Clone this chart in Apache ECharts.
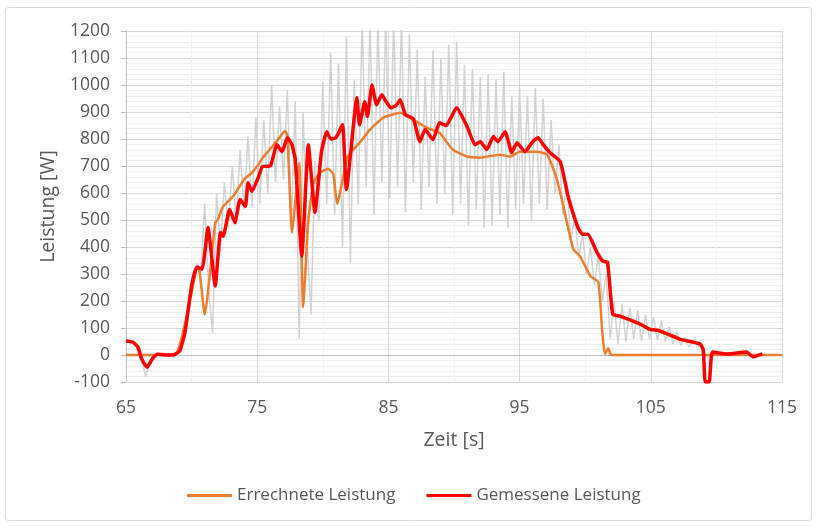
<!DOCTYPE html>
<html>
  <head>
    <meta charset="utf-8" />
    <title>Leistung</title>
    <script src="https://cdn.jsdelivr.net/npm/echarts@6.0.0/dist/echarts.min.js"></script>
    <style>
      html, body { margin: 0; padding: 0; background: #fff; }
    </style>
  </head>

  <body>
    <div id="main" style="width: 817px; height: 527px"></div>

    <script>
      // Messwerte (roh), errechnete und gemessene Leistung: [Zeit s, Leistung W]
      var rohLeistung = [
        [65.0, 60], [65.3, 40], [65.6, 50], [65.9, 20], [66.2, -20], [66.5, -80], [66.8, -30],
        [67.1, 0], [67.7, 0], [68.3, 0], [68.9, 0], [69.3, 40], [69.7, 150], [70.1, 280],
        [70.4, 340], [70.7, 300], [71.0, 560], [71.3, 240], [71.6, 80], [71.9, 600],
        [72.2, 380], [72.5, 640], [72.8, 470], [73.1, 700], [73.4, 500], [73.7, 760],
        [74.0, 540], [74.3, 810], [74.6, 550], [74.9, 880], [75.2, 560], [75.5, 870],
        [75.8, 600], [76.1, 1000], [76.4, 640], [76.7, 920], [77.0, 650], [77.3, 980],
        [77.6, 480], [77.9, 940], [78.2, 60], [78.5, 900], [78.8, 420], [79.1, 150],
        [79.4, 720], [79.7, 500], [80.0, 1010], [80.3, 560], [80.6, 1120], [80.9, 520],
        [81.2, 1080], [81.5, 400], [81.8, 1180], [82.1, 340], [82.4, 1020], [82.7, 560],
        [83.0, 1250], [83.3, 620], [83.6, 1250], [83.9, 520], [84.2, 1250], [84.5, 640],
        [84.8, 1250], [85.1, 580], [85.4, 1250], [85.7, 620], [86.0, 1250], [86.3, 530],
        [86.6, 1190], [86.9, 640], [87.2, 1130], [87.5, 540], [87.8, 1030], [88.1, 620],
        [88.4, 1130], [88.7, 560], [89.0, 1100], [89.3, 600], [89.6, 1150], [89.9, 520],
        [90.2, 1160], [90.5, 560], [90.8, 1075], [91.1, 480], [91.4, 1060], [91.7, 540],
        [92.0, 1030], [92.3, 470], [92.6, 1040], [92.9, 480], [93.2, 1020], [93.5, 520],
        [93.8, 1050], [94.1, 470], [94.4, 960], [94.7, 540], [95.0, 990], [95.3, 560],
        [95.6, 960], [95.9, 500], [96.2, 990], [96.5, 560], [96.8, 950], [97.1, 540],
        [97.4, 870], [97.7, 600], [98.0, 780], [98.3, 520], [98.6, 640], [98.9, 420],
        [99.2, 520], [99.5, 360], [99.8, 450], [100.1, 300], [100.4, 400], [100.7, 260],
        [101.0, 370], [101.3, 200], [101.6, 300], [101.9, 60], [102.2, 200], [102.5, 40],
        [102.8, 190], [103.1, 50], [103.4, 175], [103.7, 60], [104.0, 165], [104.3, 50],
        [104.6, 150], [104.9, 60], [105.2, 140], [105.5, 55], [105.8, 125], [106.1, 50],
        [106.4, 105], [106.7, 40], [107.0, 85], [107.3, 35], [107.6, 65], [107.9, 30],
        [108.3, 50], [108.8, 30], [109.0, 0]
      ];

      var errechneteLeistung = [
        [65.0, 0], [68.7, 0], [70.5, 330], [71.0, 150], [71.8, 490], [72.0, 502],
        [72.4, 550], [73.2, 590], [74.0, 650], [74.7, 680], [75.5, 735], [76.2, 775],
        [76.7, 805], [77.1, 830], [77.3, 815], [77.65, 453], [78.2, 712], [78.5, 177],
        [78.9, 500], [79.3, 640], [79.8, 675], [80.4, 690], [80.8, 670], [81.1, 560],
        [81.9, 735], [82.8, 786], [83.6, 835], [84.6, 879], [85.9, 897], [86.9, 871],
        [88.0, 840], [88.9, 823], [89.9, 761], [91.0, 735], [92.0, 731], [93.5, 742],
        [94.3, 735], [95.0, 753], [96.3, 753], [97.1, 742], [97.85, 650], [98.5, 514],
        [99.1, 391], [99.6, 366], [100.4, 292], [101.0, 270], [101.3, 85], [101.5, 4],
        [101.75, 25], [102.0, 0], [115.0, 0]
      ];

      var gemesseneLeistung = [
        [65.0, 52], [65.5, 48], [65.9, 30], [66.2, -15], [66.6, -45], [67.0, -15],
        [67.4, 3], [68.0, 0], [68.6, 0], [69.1, 15], [69.5, 85], [70.0, 256], [70.4, 325],
        [70.8, 318], [71.25, 472], [71.8, 256], [72.2, 454], [72.4, 440], [72.9, 539],
        [73.3, 490], [73.7, 576], [74.1, 550], [74.3, 638], [74.6, 606], [75.1, 660],
        [75.4, 698], [76.0, 700], [76.5, 779], [76.9, 753], [77.3, 805], [77.65, 779],
        [77.9, 724], [78.4, 366], [78.9, 779], [79.4, 528], [79.9, 753], [80.3, 827],
        [80.6, 800], [81.0, 805], [81.5, 853], [81.8, 613], [82.6, 953], [82.8, 853],
        [83.2, 938], [83.4, 883], [83.75, 1000], [84.1, 927], [84.5, 964], [84.8, 940],
        [85.2, 915], [85.6, 925], [85.9, 945], [86.3, 890], [86.9, 875], [87.4, 790],
        [87.8, 835], [88.4, 798], [88.9, 860], [89.4, 850], [90.2, 916], [91.0, 846],
        [91.6, 779], [92.0, 790], [92.5, 761], [93.0, 809], [93.35, 790], [93.9, 827],
        [94.4, 750], [94.8, 786], [95.4, 753], [96.0, 790], [96.4, 805], [96.8, 779],
        [97.3, 750], [98.1, 716], [98.7, 587], [99.45, 472], [99.8, 447], [100.2, 447],
        [100.9, 380], [101.35, 347], [101.7, 343], [102.1, 151], [102.65, 144],
        [104.2, 114], [104.9, 96], [105.7, 89], [107.2, 59], [108.75, 41], [109.0, 20],
        [109.15, -100], [109.45, -100], [109.7, 11], [110.8, 4], [112.3, 11],
        [112.8, -7], [113.5, 4]
      ];

      var serienNamen = ["Errechnete Leistung", "Gemessene Leistung"];

      var chartDom = document.getElementById("main");
      var myChart = echarts.init(chartDom);

      var schrift = "'Open Sans', sans-serif";
      var textFarbe = "#595959";

      var option = {
        animation: false,
        backgroundColor: "#fff",
        textStyle: { fontFamily: schrift },
        graphic: [
          {
            type: "rect",
            shape: { x: 5.5, y: 7.5, width: 806, height: 513, r: 3 },
            style: { fill: "none", stroke: "#d9d9d9", lineWidth: 1 },
            silent: true,
            z: -1
          }
        ],
        grid: { left: 126, right: 35, top: 31, bottom: 145 },
        legend: {
          data: serienNamen,
          left: 187,
          top: 487,
          padding: 0,
          itemGap: 31,
          itemWidth: 45,
          itemHeight: 3,
          icon: "rect",
          textStyle: { fontSize: 17, color: textFarbe, fontFamily: schrift }
        },
        xAxis: {
          type: "value",
          min: 65,
          max: 115,
          interval: 5,
          name: "Zeit [s]",
          nameLocation: "middle",
          nameGap: 48,
          nameTextStyle: { fontSize: 19.5, color: textFarbe },
          axisLine: { lineStyle: { color: "#bfbfbf", width: 1 } },
          axisTick: { show: false },
          axisLabel: {
            fontSize: 17.5,
            color: textFarbe,
            margin: 17,
            formatter: function (v) {
              return (v - 65) % 10 === 0 ? String(v) : "";
            }
          },
          splitLine: {
            show: true,
            lineStyle: { color: ["#d9d9d9", "#f2f2f2"], width: 1 }
          }
        },
        yAxis: {
          type: "value",
          min: -100,
          max: 1200,
          interval: 100,
          name: "Leistung [W]",
          nameLocation: "middle",
          nameGap: 68,
          nameTextStyle: { fontSize: 19.5, color: textFarbe },
          axisLine: { show: true, lineStyle: { color: "#bfbfbf", width: 1 } },
          axisTick: { show: true, length: 5, lineStyle: { color: "#bfbfbf" } },
          axisLabel: {
            fontSize: 17.5,
            color: textFarbe,
            margin: 16,
            formatter: function (v) {
              return String(v);
            }
          },
          splitLine: { lineStyle: { color: "#d9d9d9", width: 1 } },
          minorTick: { show: false, splitNumber: 5 },
          minorSplitLine: { show: true, lineStyle: { color: "#efefef", width: 1 } }
        },
        series: [
          {
            name: "Rohdaten",
            type: "line",
            data: rohLeistung,
            symbol: "none",
            silent: true,
            clip: true,
            lineStyle: { color: "#d2d2d2", width: 1.5 },
            z: 1
          },
          {
            name: serienNamen[0],
            type: "line",
            data: errechneteLeistung,
            symbol: "none",
            smooth: 0.15,
            color: "#ed7d31",
            lineStyle: { color: "#ed7d31", width: 2.5 },
            z: 2
          },
          {
            name: serienNamen[1],
            type: "line",
            data: gemesseneLeistung,
            symbol: "none",
            smooth: 0.15,
            color: "#ff0000",
            lineStyle: { color: "#ff0000", width: 3.5 },
            z: 3
          }
        ]
      };

      myChart.setOption(option);
    </script>
  </body>
</html>
